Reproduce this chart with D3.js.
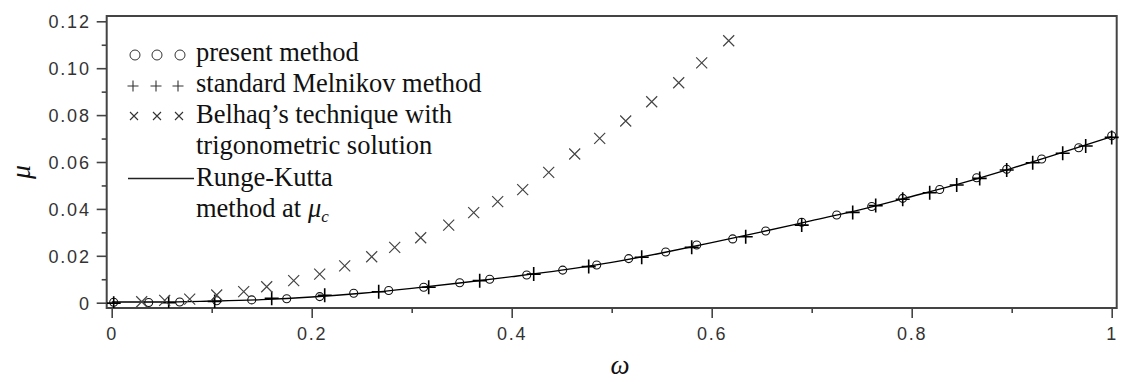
<!DOCTYPE html>
<html><head><meta charset="utf-8">
<script src="https://cdn.jsdelivr.net/npm/d3@7"></script>
<style>
body{margin:0;background:#fff;}
svg{display:block;}
</style></head>
<body>
<svg id="chart" width="1123" height="381"></svg>
<script>
// ---- data ----
const presentW  = [0.002,0.037,0.068,0.105,0.140,0.175,0.208,0.242,0.277,0.312,0.348,0.378,0.415,0.451,0.485,0.517,0.554,0.585,0.621,0.654,0.690,0.725,0.760,0.791,0.828,0.865,0.895,0.930,0.967,1.000];
const presentMu = [0.0002,0.0001,0.0003,0.0008,0.0012,0.0017,0.0026,0.0040,0.0052,0.0066,0.0085,0.0100,0.0118,0.0139,0.0161,0.0188,0.0216,0.0246,0.0272,0.0306,0.0343,0.0374,0.0410,0.0445,0.0483,0.0533,0.0569,0.0613,0.0661,0.0712];

const melnikovW  = [0.002,0.057,0.103,0.160,0.213,0.267,0.317,0.368,0.422,0.477,0.530,0.580,0.634,0.690,0.741,0.764,0.791,0.818,0.845,0.868,0.895,0.921,0.951,0.974,1.000];
const melnikovMu = [-0.0002,0.0000,0.0005,0.0019,0.0032,0.0047,0.0066,0.0094,0.0122,0.0154,0.0194,0.0236,0.0281,0.0331,0.0385,0.0414,0.0441,0.0469,0.0502,0.0530,0.0566,0.0597,0.0637,0.0668,0.0705];

const belhaqW  = [0.030,0.053,0.078,0.105,0.132,0.155,0.182,0.208,0.233,0.260,0.283,0.309,0.337,0.362,0.386,0.411,0.437,0.463,0.488,0.514,0.540,0.567,0.590,0.617];
const belhaqMu = [0.0004,0.0010,0.0015,0.0033,0.0047,0.0068,0.0094,0.0122,0.0157,0.0196,0.0236,0.0277,0.0331,0.0384,0.0431,0.0482,0.0556,0.0634,0.0701,0.0775,0.0857,0.0938,0.1023,0.1117];

const rkW  = [0,0.05,0.10,0.15,0.20,0.25,0.30,0.35,0.40,0.45,0.50,0.55,0.60,0.65,0.70,0.75,0.80,0.85,0.90,0.95,1.00];
const rkMu = [0.0003,0.0003,0.0007,0.0013,0.0024,0.0040,0.0061,0.0085,0.0111,0.0139,0.0172,0.0212,0.0256,0.0302,0.0350,0.0398,0.0453,0.0510,0.0573,0.0640,0.0708];

const xTicks = [0,0.2,0.4,0.6,0.8,1];
const xTickLabels = ["0","0.2","0.4","0.6","0.8","1"];
const xMinor = [0.1,0.3,0.5,0.7,0.9];
const yTicks = [0,0.02,0.04,0.06,0.08,0.10,0.12];
const yTickLabels = ["0","0.02","0.04","0.06","0.08","0.10","0.12"];
const yMinor = [0.01,0.03,0.05,0.07,0.09,0.11];

const legendLabels = ["present method","standard Melnikov method","Belhaq\u2019s technique with","trigonometric solution","Runge-Kutta","method at "];

// ---- layout ----
const svg = d3.select("#chart");
const L=106.7, R=1116.7, T=16, B=308;
const x = d3.scaleLinear().domain([-0.005,1.005]).range([L,R]);
const y = d3.scaleLinear().domain([-0.00226,0.12226]).range([B,T]);
const axisColor="#444";
const tickFont="'Liberation Sans', Arial, sans-serif";
const serif="'Liberation Serif','Times New Roman',serif";

// x axis
const gx = svg.append("g").attr("transform",`translate(0,${B})`);
gx.call(d3.axisBottom(x).tickValues(xTicks).tickSize(10).tickSizeOuter(0).tickFormat((d,i)=>xTickLabels[i]));
gx.append("g").call(d3.axisBottom(x).tickValues(xMinor).tickSize(5).tickSizeOuter(0).tickFormat(""));
gx.selectAll(".domain").remove();
gx.selectAll("line").attr("stroke",axisColor).attr("stroke-width",1.6);
gx.selectAll("text").attr("font-family",tickFont).attr("font-size",18).attr("letter-spacing",1.8)
  .attr("fill","#333").attr("dy",null).attr("y",32);

// y axis
const gy = svg.append("g").attr("transform",`translate(${L},0)`);
gy.call(d3.axisLeft(y).tickValues(yTicks).tickSize(10).tickSizeOuter(0).tickFormat((d,i)=>yTickLabels[i]));
gy.append("g").call(d3.axisLeft(y).tickValues(yMinor).tickSize(5).tickSizeOuter(0).tickFormat(""));
gy.selectAll(".domain").remove();
gy.selectAll("line").attr("stroke",axisColor).attr("stroke-width",1.6);
gy.selectAll("text").attr("font-family",tickFont).attr("font-size",18).attr("letter-spacing",1.8)
  .attr("fill","#333").attr("x",-16).attr("dy","0.36em");

// frame
svg.append("rect").attr("x",L).attr("y",T).attr("width",R-L).attr("height",B-T)
  .attr("fill","none").attr("stroke",axisColor).attr("stroke-width",2);

// clip
svg.append("clipPath").attr("id","clip").append("rect").attr("x",L).attr("y",T-10).attr("width",R-L+6).attr("height",B-T+10);
const plot = svg.append("g").attr("clip-path","url(#clip)");

// Runge-Kutta line
const line = d3.line().x((d,i)=>x(rkW[i])).y((d,i)=>y(rkMu[i])).curve(d3.curveMonotoneX);
plot.append("path").datum(rkMu).attr("d",line).attr("fill","none").attr("stroke","#000").attr("stroke-width",1.4);

// present method circles
plot.selectAll("circle.p").data(presentMu).join("circle")
  .attr("cx",(d,i)=>x(presentW[i])).attr("cy",d=>y(d)).attr("r",4)
  .attr("fill","none").attr("stroke","#111").attr("stroke-width",1.1);

// Melnikov pluses
const plusPath = s => `M${-s},0H${s}M0,${-s}V${s}`;
const crossPath = s => `M${-s},${-s}L${s},${s}M${-s},${s}L${s},${-s}`;
plot.selectAll("path.m").data(melnikovMu).join("path").attr("class","m")
  .attr("transform",(d,i)=>`translate(${x(melnikovW[i])},${y(d)})`)
  .attr("d",plusPath(7)).attr("stroke","#000").attr("stroke-width",1.6).attr("fill","none");

// Belhaq crosses
plot.selectAll("path.b").data(belhaqMu).join("path").attr("class","b")
  .attr("transform",(d,i)=>`translate(${x(belhaqW[i])},${y(d)})`)
  .attr("d",crossPath(5.5)).attr("stroke","#444").attr("stroke-width",1.2).attr("fill","none");

// legend
const lg = svg.append("g");
const lx = 196;
const rows = [61,92,123,154,186,217];
[135,157,180].forEach(cx=>lg.append("circle").attr("cx",cx).attr("cy",55).attr("r",5).attr("fill","none").attr("stroke","#333").attr("stroke-width",1));
[133,156,178].forEach(cx=>lg.append("path").attr("transform",`translate(${cx},86)`).attr("d",plusPath(5.5)).attr("stroke","#333").attr("stroke-width",1.1));
[134,157,179].forEach(cx=>lg.append("path").attr("transform",`translate(${cx},116)`).attr("d",crossPath(4)).attr("stroke","#333").attr("stroke-width",1.1));
lg.append("line").attr("x1",128).attr("x2",194).attr("y1",178.5).attr("y2",178.5).attr("stroke","#222").attr("stroke-width",1.3);
legendLabels.forEach((t,i)=>{
  const tx = lg.append("text").attr("x",lx).attr("y",rows[i]).attr("font-family",serif).attr("font-size",26.5).attr("fill","#111").text(t);
  if(i===5){
    tx.append("tspan").attr("font-style","italic").text("\u03bc");
    tx.append("tspan").attr("font-style","italic").attr("font-size",17).attr("dy",5).text("c");
  }
});

// axis titles
svg.append("text").attr("transform","translate(30,172) rotate(-90)").attr("text-anchor","middle")
  .attr("font-family",serif).attr("font-style","italic").attr("font-size",28).attr("fill","#111").text("\u03bc");
svg.append("text").attr("x",620).attr("y",374).attr("text-anchor","middle")
  .attr("font-family",serif).attr("font-style","italic").attr("font-size",27).attr("fill","#111").text("\u03c9");
</script>
</body></html>
